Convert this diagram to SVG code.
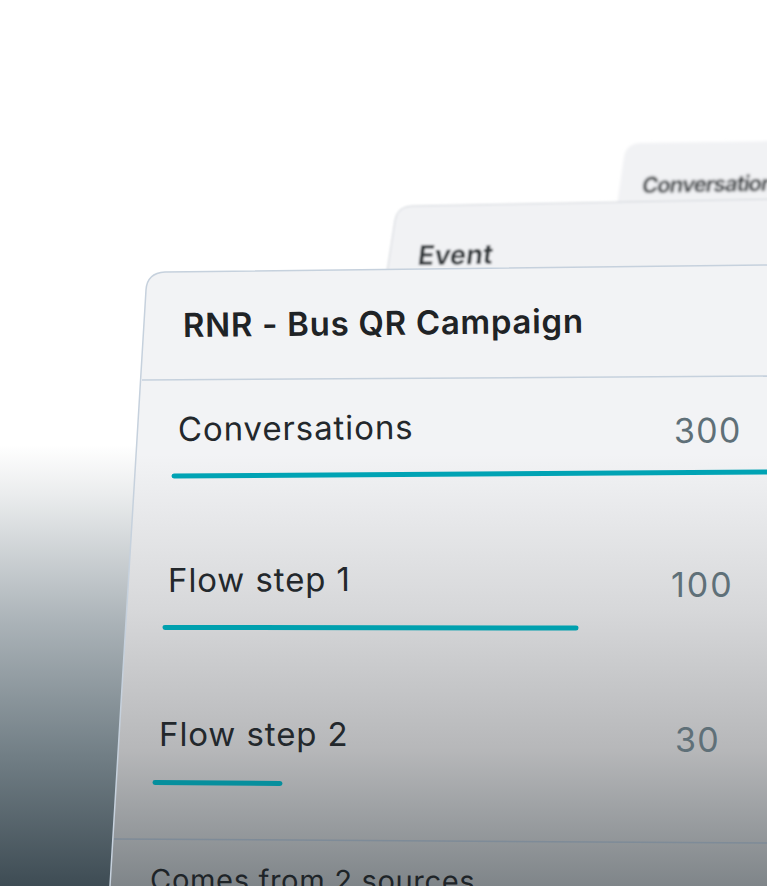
<svg xmlns="http://www.w3.org/2000/svg" width="767" height="886" viewBox="0 0 767 886">
<style>
text{font-family:Inter,"Noto Sans","Liberation Sans",sans-serif}
.lab{font-size:33px;fill:#23282c;letter-spacing:.9px;font-weight:400}
.num{font-size:34px;fill:#5f7078;letter-spacing:1.300px;font-weight:400}
.bar{stroke:#00a3b4;stroke-width:5;stroke-linecap:round;fill:none}
.sep{stroke:#c6d1dd;stroke-width:1.500;fill:none}
.back{font-weight:700;fill:#33373b}
</style>
<defs>
<linearGradient id="bg" x1="0" y1="445" x2="0" y2="886" gradientUnits="userSpaceOnUse">
<stop offset="0" stop-color="#fff"/><stop offset=".12" stop-color="#e9ebec"/><stop offset=".4" stop-color="#abb3b8"/><stop offset=".7" stop-color="#727f86"/><stop offset="1" stop-color="#3e4c54"/>
</linearGradient>
<linearGradient id="card" x1="0" y1="270" x2="0" y2="886" gradientUnits="userSpaceOnUse">
<stop offset="0" stop-color="#f2f3f5"/><stop offset=".3" stop-color="#f2f3f5"/><stop offset=".55" stop-color="#d7d8da"/><stop offset=".78" stop-color="#b6b7b9"/><stop offset="1" stop-color="#7f8589"/>
</linearGradient>
<filter id="b1" x="-10%" y="-10%" width="120%" height="120%"><feGaussianBlur stdDeviation="1"/></filter>
<filter id="b2" x="-10%" y="-10%" width="120%" height="120%"><feGaussianBlur stdDeviation="1.600"/></filter>
</defs>
<rect id="background" width="767" height="886" fill="url(#bg)"/>
<g id="card-conversations" filter="url(#b2)">
<path d="M617 205 L624 157 Q626 144 640 143 L780 141 L780 205 Z" fill="#f1f2f4"/>
<text class="back" transform="translate(641 193) rotate(-1) skewX(-10)" font-size="22" textLength="144" lengthAdjust="spacing">Conversations</text>
</g>
<g id="card-event" filter="url(#b1)">
<path d="M387 272 L395 220 Q397 207 411 206 L780 199 L780 272 Z" fill="#f1f2f4" stroke="#d2d6db" stroke-width="1"/>
<text class="back" transform="translate(417 265) rotate(-1) skewX(-8)" font-size="27">Event</text>
</g>
<g id="card-main">
<path d="M110 886 L146 290 Q147 273 165 272 L767 265 L767 886 Z" fill="url(#card)"/>
<path d="M110 886 L146 290 Q147 273 165 272 L767 265" fill="none" stroke="#c6d1dd" stroke-width="1.500"/>
<text transform="translate(183 337) rotate(-.6)" font-size="33" font-weight="600" fill="#1f2326" letter-spacing=".700">RNR - Bus QR Campaign</text>
<path class="sep" d="M142 380 L767 376"/>
<path class="sep" style="stroke:#7e8b98" d="M114 839 L767 843"/>
<text id="row1-label" class="lab" transform="translate(178 441) rotate(-.5)">Conversations</text>
<text id="row1-value" class="num" transform="translate(674 443) rotate(-.5)">300</text>
<path class="bar" d="M174 476 L767 472"/>
<text id="row2-label" class="lab" transform="translate(168 592) rotate(-.3)">Flow step 1</text>
<text id="row2-value" class="num" transform="translate(671 597)" style="letter-spacing:2px">100</text>
<path class="bar" style="stroke:#00a0ae" d="M165 627.500 L576 628"/>
<text id="row3-label" class="lab" transform="translate(159 746)">Flow step 2</text>
<text id="row3-value" class="num" transform="translate(675 752)">30</text>
<path class="bar" style="stroke:#068f9d" d="M155 782.500 L280 783.500"/>
<text id="footer" transform="translate(150 890) rotate(.3)" font-size="29" font-weight="400" fill="#1e2428" letter-spacing=".700">Comes from 2 sources</text>
</g>
</svg>
